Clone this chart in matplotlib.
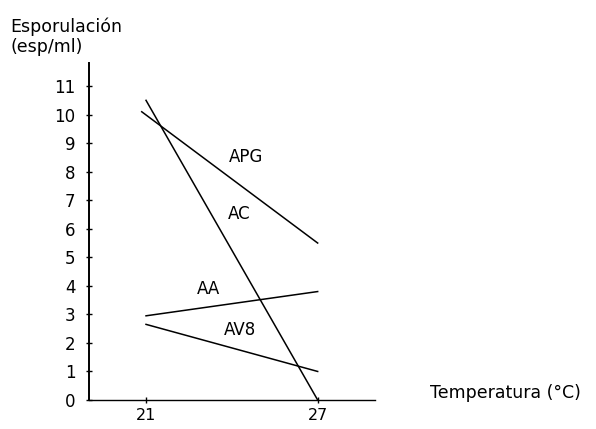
import matplotlib
matplotlib.use("Agg")
import matplotlib.pyplot as plt

plt.rcParams["font.family"] = ["DejaVu Sans"]

# data
temps = [21, 27]
series_names = ["APG", "AC", "AA", "AV8"]
apg = [10.1, 5.5]
ac = [10.5, 0.0]
aa = [2.95, 3.8]
av8 = [2.65, 1.0]
apg_x = [20.85, 27]
label_pos = {"APG": (24.5, 8.5), "AC": (24.25, 6.5), "AA": (23.2, 3.9), "AV8": (24.3, 2.45)}
y_ticks = list(range(0, 12))

fig = plt.figure(figsize=(5.96, 4.29), dpi=100)
ax = fig.add_axes([0.149, 0.0676, 0.48, 0.785])

ax.plot(apg_x, apg, color="black", lw=1.1)
ax.plot(temps, ac, color="black", lw=1.1)
ax.plot(temps, aa, color="black", lw=1.1)
ax.plot(temps, av8, color="black", lw=1.1)

for name in series_names:
    x, y = label_pos[name]
    ax.text(x, y, name, ha="center", va="center", fontsize=12)

ax.set_xlim(19, 29)
ax.set_ylim(0, 11.8)
ax.set_xticks(temps)
ax.set_yticks(y_ticks)
ax.tick_params(direction="inout", length=5, width=1, labelsize=12)
ax.tick_params(axis="y", pad=7)
ax.tick_params(axis="x", pad=3, labelsize=11.5)
ax.spines["top"].set_visible(False)
ax.spines["right"].set_visible(False)
ax.spines["left"].set_linewidth(1.4)
ax.spines["bottom"].set_linewidth(1.0)

fig.text(0.017, 0.96, "Esporulación\n(esp/ml)", ha="left", va="top",
         fontsize=12.5, linespacing=1.2)
fig.text(0.722, 0.085, "Temperatura (°C)", ha="left", va="center", fontsize=12.5)

fig.savefig("out.png", dpi=100)
